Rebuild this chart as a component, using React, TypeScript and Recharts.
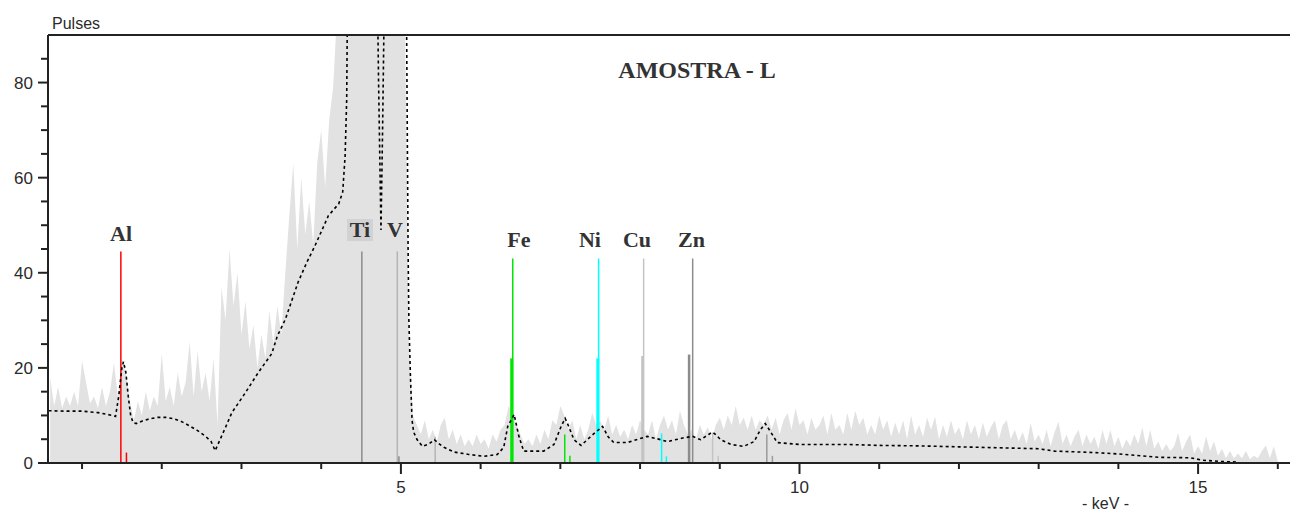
import React from 'react';
import {
  ComposedChart,
  Area,
  Line,
  XAxis,
  YAxis,
  ReferenceLine,
  ReferenceDot,
} from 'recharts';

// ---- Spectrum (gray) : channels from 0.60 keV, every 0.05 keV ----
const channelStart = 0.6;
const channelStep = 0.05;
const pulses: number[] = [
  // 0.60 - 0.95
  18, 12, 16, 11.5, 14, 12, 15, 12,
  // 1.00 - 1.45
  21.5, 17, 12.5, 14, 11.5, 16, 12, 15, 21, 14,
  // 1.50 - 1.95
  22, 19, 13, 9, 13, 10, 15, 11, 14, 12,
  // 2.00 - 2.45
  23, 13, 16, 12, 19, 14, 17, 25.5, 14, 23.5,
  // 2.50 - 2.95
  15, 19, 13, 22, 8, 37, 30, 45, 33, 40,
  // 3.00 - 3.45
  27, 34, 24, 29, 20, 27, 22, 32, 25, 33,
  // 3.50 - 3.95
  27, 40, 52, 63, 45, 60, 48, 55, 46, 63,
  // 4.00 - 4.45
  70, 58, 72, 79, 95, 95, 95, 95, 95, 95,
  // 4.50 - 4.95
  95, 95, 95, 95, 95, 95, 95, 95, 95, 95,
  // 5.00 - 5.45
  95, 95, 25, 10, 8, 6, 9, 5, 7, 4.5,
  // 5.50 - 5.95
  8, 9.5, 5, 7, 4, 6, 3.5, 5, 3.5, 6,
  // 6.00 - 6.45
  4, 5, 3, 6, 4.5, 7, 8, 12, 10.5, 8,
  // 6.50 - 6.95
  6, 4, 5, 3.5, 6, 4, 7, 5, 9, 8,
  // 7.00 - 7.45
  12, 10, 7, 9, 5, 8, 5, 7, 10.5, 8,
  // 7.50 - 7.95
  9, 7, 10, 6, 8, 5.5, 7, 5, 8, 6,
  // 8.00 - 8.45
  9, 7, 6, 9, 5, 8, 10, 7, 9, 6,
  // 8.50 - 8.95
  11, 8, 6, 7, 5, 8, 6, 7.5, 5, 8,
  // 9.00 - 9.45
  9.5, 7, 10, 8, 12, 8, 9.5, 7, 10, 7,
  // 9.50 - 9.95
  9, 8, 10, 7, 9.5, 6, 9, 10.5, 7, 11.5,
  // 10.00 - 10.45
  8, 9, 6, 9.5, 7, 8, 10, 6, 10.5, 7,
  // 10.50 - 10.95
  8, 6, 10.5, 7, 11, 8, 9.5, 6, 8, 6,
  // 11.00 - 11.45
  10, 7, 9, 5.5, 8.5, 6, 9, 5, 10, 6,
  // 11.50 - 11.95
  8, 5.5, 9.5, 7, 9.8, 5, 8, 5.5, 9, 6,
  // 12.00 - 12.45
  7.5, 5, 9, 6, 8, 5, 8.5, 5.5, 7.5, 9,
  // 12.50 - 12.95
  5, 8, 9, 5, 7, 4.5, 6.5, 4, 8.4, 4.5,
  // 13.00 - 13.45
  6, 4, 7, 3.5, 6.5, 8.7, 4, 6, 3.5, 5.5,
  // 13.50 - 13.95
  7, 3.5, 6, 4, 5.5, 3, 7, 4, 7, 3.5,
  // 14.00 - 14.45
  5.5, 3, 5, 3.5, 6, 4, 7.5, 3.5, 7, 3,
  // 14.50 - 14.95
  4.5, 2.5, 4, 2.5, 3.5, 6.3, 2.5, 4.5, 6, 2,
  // 15.00 - 15.45
  3.5, 2, 5.6, 2.5, 4.5, 1.5, 3, 1, 2.5, 1,
  // 15.50 - 15.95
  2, 1, 2.5, 0.8, 1.5, 1, 2.5, 3.7, 1, 3.5,
  // 16.00 - 16.15
  0.3, 0, 0, 0,
];

// ---- Fitted curve (black dashed) ----
const fitEnergy: number[] = [
  0.58, 0.8, 1.0, 1.2, 1.35, 1.42, 1.46, 1.5, 1.52, 1.55, 1.58, 1.61, 1.64, 1.68, 1.75,
  1.85, 1.95, 2.05, 2.15, 2.25, 2.35, 2.45, 2.55, 2.62, 2.67, 2.72, 2.8, 2.88, 3.05, 3.21,
  3.38, 3.45, 3.55, 3.71, 3.82, 3.92, 4.09, 4.22, 4.27, 4.3, 4.32, 4.34, 4.45, 4.51, 4.6,
  4.68, 4.72, 4.75, 4.77, 4.79, 4.85, 4.95, 5.02, 5.07, 5.09, 5.1, 5.12, 5.14, 5.16, 5.2,
  5.27, 5.35, 5.42, 5.48, 5.54, 5.67, 5.85, 6.04, 6.21, 6.29, 6.34, 6.42, 6.48, 6.54, 6.79,
  6.92, 7.01, 7.06, 7.11, 7.17, 7.26, 7.41, 7.53, 7.6, 7.67, 7.84, 8.09, 8.26, 8.34, 8.55,
  8.66, 8.76, 8.86, 8.91, 8.96, 9.01, 9.14, 9.3, 9.43, 9.51, 9.57, 9.64, 9.72, 10.0, 10.6,
  11.0, 11.5, 12.0, 12.5, 13.0, 13.2, 13.7, 14.0, 14.3, 14.5, 14.9, 15.05, 15.3, 15.5,
];
const fitPulses: number[] = [
  11, 10.9, 10.9, 10.6, 10.1, 9.8, 14, 20, 21.3, 19, 14, 10, 8.5, 8.3, 8.8,
  9.3, 9.6, 9.6, 9.3, 8.7, 7.8, 6.8, 5.6, 4.5, 2.6, 4.5, 7.5, 10.6, 14.8, 19,
  23, 26.7, 30.2, 38, 42.2, 45.6, 52, 54.5, 57, 64.6, 76.5, 120, 300, 400, 200,
  130, 80, 49, 70, 95, 200, 300, 150, 95, 45, 30, 18, 9, 6.5, 5,
  3.5, 4, 4.9, 4, 3.3, 2.3, 1.8, 1.4, 1.8, 3.3, 7.7, 10.2, 5.6, 2.5, 2.5,
  3.9, 7.7, 9.4, 7.5, 4.9, 3.7, 6, 7.7, 5.5, 4.3, 4.3, 5.6, 4.9, 4.5, 5.3,
  5.6, 4.9, 6.0, 6.5, 5.8, 4.9, 3.9, 3.5, 4.5, 7, 8.3, 6.5, 4.3, 3.9, 3.9,
  3.7, 3.6, 3.4, 3.2, 3.0, 2.5, 2.2, 1.9, 1.5, 1.2, 1.1, 0.6, 0.3, 0.2,
];

// ---- Element marker lines ----
const markerEnergy: number[] = [
  1.487, 1.557, 4.51, 4.955, 4.975, 5.43,
  6.39, 6.403, 7.055, 7.12,
  7.47, 7.48, 8.27, 8.33,
  8.03, 8.045, 8.91, 8.98,
  8.615, 8.66, 9.59, 9.66,
];
const markerHeight: number[] = [
  44.5, 2.2, 44.5, 44.5, 1.4, 5.5,
  22, 43, 6, 1.5,
  22, 43, 6.2, 1.4,
  22.5, 43, 6.4, 1.5,
  22.8, 43, 6, 1.5,
];
const markerColor: string[] = [
  '#ff0000', '#ff0000', '#8c8c8c', '#b4b4b4', '#8c8c8c', '#b4b4b4',
  '#00e600', '#00e600', '#00e600', '#00e600',
  '#00ffff', '#00ffff', '#00ffff', '#00ffff',
  '#c4c4c4', '#c4c4c4', '#c4c4c4', '#c4c4c4',
  '#8c8c8c', '#8c8c8c', '#9a9a9a', '#9a9a9a',
];
const markerWidth: number[] = [
  1.5, 1.5, 1.5, 1.5, 1.5, 1.5,
  3, 1.5, 1.5, 1.5,
  3, 1.5, 1.5, 1.5,
  2.5, 1.5, 1.5, 1.5,
  2.5, 1.5, 1.5, 1.5,
];

// ---- Element labels ----
const labelText: string[] = ['Al', 'Ti', 'V', 'Fe', 'Ni', 'Cu', 'Zn'];
const labelEnergy: number[] = [1.489, 4.487, 4.926, 6.481, 7.372, 7.962, 8.645];
const labelPulses: number[] = [46.6, 47.5, 47.5, 45.4, 45.4, 45.4, 45.4];

// ---- Axes ----
const xTicks: number[] = [1, 2, 3, 4, 5, 6, 7, 8, 9, 10, 11, 12, 13, 14, 15, 16];
const xLabelTicks: number[] = [5, 10, 15];
const yTicks: number[] = [0, 5, 10, 15, 20, 25, 30, 35, 40, 45, 50, 55, 60, 65, 70, 75, 80, 85];
const yLabelTicks: number[] = [0, 20, 40, 60, 80];

const spectrum = pulses.map((p, i) => ({
  e: Math.round((channelStart + i * channelStep) * 100) / 100,
  p,
}));
const fit = fitEnergy.map((e, i) => ({ e, v: fitPulses[i] }));

const SANS = '"Liberation Sans", Arial, sans-serif';
const SERIF = '"Liberation Serif", "Times New Roman", serif';

const XTick = (props: any) => {
  const { x, y, payload } = props;
  const major = xLabelTicks.includes(payload.value);
  return (
    <g>
      <line x1={x} x2={x} y1={y} y2={y + (major ? 11 : 6)} stroke="#222" strokeWidth={2} />
      {major && (
        <text x={x} y={y + 30} textAnchor="middle" fontFamily={SANS} fontSize={17} fill="#2a2a2a">
          {payload.value}
        </text>
      )}
    </g>
  );
};

const YTick = (props: any) => {
  const { x, y, payload } = props;
  const major = yLabelTicks.includes(payload.value);
  return (
    <g>
      <line x1={x - (major ? 10 : 7)} x2={x} y1={y} y2={y} stroke="#222" strokeWidth={2} />
      {major && (
        <text x={x - 15} y={y} dy="0.36em" textAnchor="end" fontFamily={SANS} fontSize={17} fill="#2a2a2a">
          {payload.value}
        </text>
      )}
    </g>
  );
};

const makeLabel = (txt: string) => (props: any) => {
  const { cx, cy } = props;
  return (
    <g>
      {txt === 'Ti' && <rect x={cx - 13} y={cy - 18} width={26} height={22} fill="#d2d2d2" />}
      <text
        x={cx}
        y={cy}
        textAnchor="middle"
        fontFamily={SERIF}
        fontWeight="bold"
        fontSize={22}
        fill="#333"
      >
        {txt}
      </text>
    </g>
  );
};

export default function App() {
  return (
    <div style={{ position: 'absolute', left: 0, top: 0, width: 1296, height: 515, background: '#fff' }}>
      <ComposedChart
        width={1296}
        height={515}
        data={spectrum}
        margin={{ top: 35, right: 6, bottom: 0, left: 0 }}
      >
        <XAxis
          dataKey="e"
          type="number"
          domain={[0.573, 16.153]}
          allowDataOverflow
          ticks={xTicks}
          tick={<XTick />}
          tickSize={0}
          tickMargin={0}
          tickLine={false}
          height={52}
          axisLine={{ stroke: '#222', strokeWidth: 2 }}
          interval={0}
        />
        <YAxis
          type="number"
          domain={[0, 90]}
          allowDataOverflow
          ticks={yTicks}
          tick={<YTick />}
          tickSize={0}
          tickMargin={0}
          tickLine={false}
          width={48}
          axisLine={{ stroke: '#222', strokeWidth: 2 }}
          interval={0}
        />
        <Area
          dataKey="p"
          type="linear"
          stroke="none"
          fill="#e2e2e2"
          fillOpacity={1}
          isAnimationActive={false}
          dot={false}
          activeDot={false}
        />
        {markerEnergy.map((e, i) => (
          <ReferenceLine
            key={'m' + i}
            segment={[
              { x: e, y: 0 },
              { x: e, y: markerHeight[i] },
            ]}
            stroke={markerColor[i]}
            strokeWidth={markerWidth[i]}
          />
        ))}
        <Line
          data={fit}
          dataKey="v"
          type="linear"
          stroke="#000"
          strokeWidth={1.6}
          strokeDasharray="3 3"
          dot={false}
          activeDot={false}
          isAnimationActive={false}
        />
        <ReferenceLine y={90} stroke="#222" strokeWidth={2} />
        {labelText.map((t, i) => (
          <ReferenceDot
            key={'l' + i}
            x={labelEnergy[i]}
            y={labelPulses[i]}
            r={0}
            shape={makeLabel(t)}
          />
        ))}
        <text x={52} y={29} fontFamily={SANS} fontSize={16} fill="#2a2a2a">
          Pulses
        </text>
        <text x={1082} y={509} fontFamily={SANS} fontSize={16} fill="#2a2a2a">
          - keV -
        </text>
        <text
          x={697}
          y={78}
          textAnchor="middle"
          fontFamily={SERIF}
          fontWeight="bold"
          fontSize={24}
          fill="#333"
        >
          AMOSTRA - L
        </text>
      </ComposedChart>
    </div>
  );
}
